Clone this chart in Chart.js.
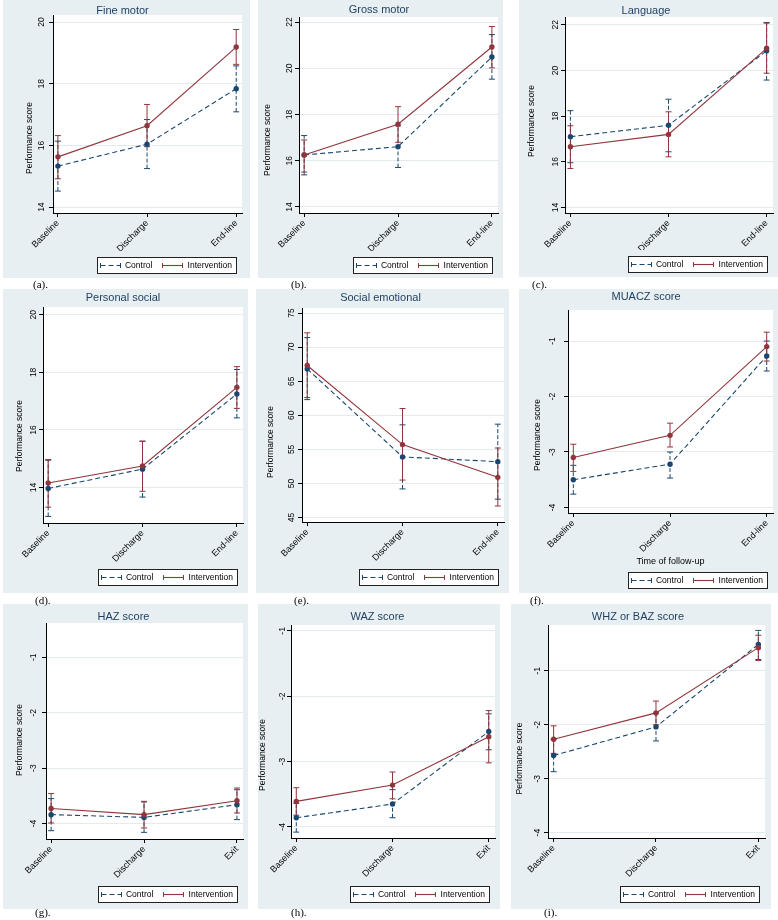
<!DOCTYPE html>
<html><head><meta charset="utf-8">
<script src="https://cdn.jsdelivr.net/npm/chart.js@4.4.1/dist/chart.umd.min.js"></script>
<style>
html,body{margin:0;padding:0;background:#fff;}
body{width:778px;height:920px;position:relative;overflow:hidden;}
.panel{position:absolute;z-index:1;}
.panel canvas{display:block;}
.lab{position:absolute;z-index:5;font:11px "Liberation Serif","Times New Roman",serif;color:#000;line-height:12px;white-space:nowrap;}
</style></head><body>
<script>
// ---------------- data ----------------
const timeCats = ['Baseline', 'Discharge', 'End-line'];
const exitCats = ['Baseline', 'Discharge', 'Exit'];
const seriesNames = ['Control', 'Intervention'];

const fineCtrl = [15.33, 16.04, 17.84];
const fineCtrlLo = [14.52, 15.25, 17.09];
const fineCtrlHi = [16.14, 16.84, 18.58];
const fineInt = [15.63, 16.64, 19.19];
const fineIntLo = [14.92, 15.96, 18.63];
const fineIntHi = [16.32, 17.33, 19.76];
const fineTicks = [14, 16, 18, 20];

const grossCtrl = [16.25, 16.61, 20.49];
const grossCtrlLo = [15.39, 15.71, 19.53];
const grossCtrlHi = [17.09, 17.51, 21.46];
const grossInt = [16.25, 17.58, 20.92];
const grossIntLo = [15.51, 16.80, 20.02];
const grossIntHi = [16.90, 18.34, 21.81];
const grossTicks = [14, 16, 18, 20, 22];

const langCtrl = [17.10, 17.60, 20.86];
const langCtrlLo = [15.96, 16.44, 19.58];
const langCtrlHi = [18.24, 18.74, 22.10];
const langInt = [16.66, 17.20, 20.97];
const langIntLo = [15.71, 16.22, 19.88];
const langIntHi = [17.58, 18.19, 22.07];
const langTicks = [14, 16, 18, 20, 22];

const persCtrl = [13.97, 14.64, 17.25];
const persCtrlLo = [13.00, 13.67, 16.42];
const persCtrlHi = [14.95, 15.61, 18.10];
const persInt = [14.16, 14.75, 17.48];
const persIntLo = [13.32, 13.87, 16.75];
const persIntHi = [14.97, 15.61, 18.20];
const persTicks = [14, 16, 18, 20];

const socCtrl = [66.8, 53.9, 53.2];
const socCtrlLo = [62.3, 49.2, 47.7];
const socCtrlHi = [71.4, 58.6, 58.7];
const socInt = [67.3, 55.7, 50.9];
const socIntLo = [62.6, 50.5, 46.7];
const socIntHi = [72.1, 61.0, 55.2];
const socTicks = [45, 50, 55, 60, 65, 70, 75];

const muacCtrl = [-3.50, -3.22, -1.27];
const muacCtrlLo = [-3.76, -3.47, -1.54];
const muacCtrlHi = [-3.24, -3.00, -1.00];
const muacInt = [-3.10, -2.70, -1.10];
const muacIntLo = [-3.35, -2.91, -1.36];
const muacIntHi = [-2.86, -2.48, -0.84];
const muacTicks = [-4, -3, -2, -1];

const hazCtrl = [-3.84, -3.89, -3.66];
const hazCtrlLo = [-4.13, -4.16, -3.93];
const hazCtrlHi = [-3.55, -3.61, -3.39];
const hazInt = [-3.73, -3.84, -3.59];
const hazIntLo = [-3.99, -4.08, -3.81];
const hazIntHi = [-3.46, -3.60, -3.36];
const hazTicks = [-4, -3, -2, -1];

const wazCtrl = [-3.86, -3.65, -2.54];
const wazCtrlLo = [-4.08, -3.86, -2.82];
const wazCtrlHi = [-3.64, -3.43, -2.27];
const wazInt = [-3.61, -3.36, -2.62];
const wazIntLo = [-3.82, -3.57, -3.02];
const wazIntHi = [-3.40, -3.16, -2.22];
const wazTicks = [-4, -3, -2, -1];

const whzCtrl = [-2.57, -2.04, -0.51];
const whzCtrlLo = [-2.87, -2.30, -0.79];
const whzCtrlHi = [-2.27, -1.78, -0.25];
const whzInt = [-2.27, -1.78, -0.57];
const whzIntLo = [-2.53, -2.00, -0.81];
const whzIntHi = [-2.02, -1.56, -0.34];
const whzTicks = [-4, -3, -2, -1];

// ---------------- styles ----------------
const NAVY = '#1a476f', MAROON = '#90353b';
const BG = '#e8eff2', GRID = '#e3ebee', TITLE = '#1c3d5e';
const FONT = '"Liberation Sans", Arial, Helvetica, sans-serif';
Chart.defaults.font.family = FONT;

// ---------------- panels (data refs + layout) ----------------
const panels = [
  {tag:'(a).', title:'Fine motor', cats:timeCats, c:[fineCtrl,fineCtrlLo,fineCtrlHi], i:[fineInt,fineIntLo,fineIntHi], ticks:fineTicks,
   yMin:13.81, yMax:20.23, box:[3,0,247,278], L:50, padR:8, T:15, B:213, xh:38, tTop:4.4, yT:21.9, yDy:24, yPad:2.3, tagPos:[33,285]},
  {tag:'(b).', title:'Gross motor', cats:timeCats, c:[grossCtrl,grossCtrlLo,grossCtrlHi], i:[grossInt,grossIntLo,grossIntHi], ticks:grossTicks,
   yMin:13.74, yMax:22.22, box:[258,0,245,278], L:41, padR:3, T:17, B:213, xh:38, tTop:3.4, yT:4.9, yDy:25, yPad:0.6, tagPos:[291,285]},
  {tag:'(c).', title:'Language', cats:timeCats, c:[langCtrl,langCtrlLo,langCtrlHi], i:[langInt,langIntLo,langIntHi], ticks:langTicks,
   yMin:13.76, yMax:22.34, box:[519,0,259,277], L:46, padR:5, T:17, B:213, xh:37, tTop:4.1, yT:7.9, yDy:6, yPad:0.5, tagPos:[532,285]},
  {tag:'(d).', title:'Personal social', cats:timeCats, c:[persCtrl,persCtrlLo,persCtrlHi], i:[persInt,persIntLo,persIntHi], ticks:persTicks,
   yMin:12.77, yMax:20.27, box:[3,289,245,304], L:40, padR:5, T:18, B:234, xh:40, tTop:2.4, yT:11.9, yDy:21, yPad:1, tagPos:[35,601]},
  {tag:'(e).', title:'Social emotional', cats:timeCats, c:[socCtrl,socCtrlLo,socCtrlHi], i:[socInt,socIntLo,socIntHi], ticks:socTicks,
   yMin:44.35, yMax:75.74, box:[256,289,253,304], L:46, padR:4, T:19, B:233, xh:41, tTop:2.4, yT:9.9, yDy:27, yPad:2, tagPos:[294,601]},
  {tag:'(f).', title:'MUACZ score', cats:timeCats, c:[muacCtrl,muacCtrlLo,muacCtrlHi], i:[muacInt,muacIntLo,muacIntHi], ticks:muacTicks,
   yMin:-4.10, yMax:-0.44, box:[519,289,259,304], L:49, padR:5, T:21, B:224, xh:53, tTop:1.4, yT:13.9, yDy:23.5, yPad:7.5, tagPos:[530,601],
   xTitle:'Time of follow-up'},
  {tag:'(g).', title:'HAZ score', cats:exitCats, c:[hazCtrl,hazCtrlLo,hazCtrlHi], i:[hazInt,hazIntLo,hazIntHi], ticks:hazTicks,
   yMin:-4.28, yMax:-0.38, box:[3,604,245,305], L:43, padR:4, T:19, B:235, xh:41, tTop:6.4, yT:11.9, yDy:9, yPad:4.2, tagPos:[35,913]},
  {tag:'(h).', title:'WAZ score', cats:exitCats, c:[wazCtrl,wazCtrlLo,wazCtrlHi], i:[wazInt,wazIntLo,wazIntHi], ticks:wazTicks,
   yMin:-4.17, yMax:-0.91, box:[258,604,242,305], L:33, padR:3, T:21, B:234, xh:42, tTop:6.4, yT:0, yDy:23.5, yPad:0.2, tagPos:[291,913]},
  {tag:'(i).', title:'WHZ or BAZ score', cats:exitCats, c:[whzCtrl,whzCtrlLo,whzCtrlHi], i:[whzInt,whzIntLo,whzIntHi], ticks:whzTicks,
   yMin:-4.10, yMax:-0.15, box:[511,604,260,305], L:37, padR:6, T:21, B:234, xh:42, tTop:6.4, yT:3.9, yDy:27, yPad:2.5, tagPos:[544,913]}
];

// ---------------- decoration plugin ----------------
const LEG_FONT = 8.5, LEG_SYM = 21, LEG_PAD = 10, LEG_H = LEG_FONT + LEG_PAD + 10;
function legendRect(chart) {
  const lg = chart.legend;
  if (!lg || !lg.legendHitBoxes || !lg.legendHitBoxes.length) return null;
  const hb = lg.legendHitBoxes;
  const x0 = Math.min(...hb.map(h => h.left));
  const x1 = Math.max(...hb.map(h => h.left + h.width));
  const y0 = hb[0].top;
  return {x: Math.round(x0 - 3) + 0.5, y: Math.round(y0 - 4) + 0.5, w: Math.round(x1 - x0 + 7), h: 16};
}
const panelDeco = {
  id: 'panelDeco',
  beforeDraw(chart) {
    const {ctx, width, height, chartArea: a} = chart;
    ctx.save();
    ctx.fillStyle = BG;
    ctx.fillRect(0, 0, width, height);
    ctx.fillStyle = '#fff';
    ctx.fillRect(a.left, a.top, a.right - a.left, a.bottom - a.top);
    const r = legendRect(chart);
    if (r) ctx.fillRect(r.x, r.y, r.w, r.h);
    ctx.restore();
  },
  afterDraw(chart) {
    const {ctx} = chart;
    const r = legendRect(chart);
    if (!r) return;
    ctx.save();
    ctx.strokeStyle = '#222';
    ctx.lineWidth = 1;
    ctx.strokeRect(r.x, r.y, r.w, r.h);
    const lg = chart.legend;
    lg.legendHitBoxes.forEach((hb, k) => {
      const item = lg.legendItems[k];
      const ds = chart.data.datasets[item.datasetIndex];
      const cy = Math.round(hb.top + LEG_FONT / 2) + 0.5;
      const xa = Math.round(hb.left) + 0.5, xb = Math.round(hb.left + LEG_SYM) - 0.5;
      ctx.strokeStyle = ds.borderColor;
      ctx.lineWidth = 1.1;
      ctx.setLineDash(ds.borderDash || []);
      ctx.beginPath();
      ctx.moveTo(xa, cy); ctx.lineTo(xb, cy);
      ctx.stroke();
      ctx.setLineDash([]);
      ctx.lineWidth = 1;
      ctx.beginPath();
      [xa, xb].forEach(x => { ctx.moveTo(x, cy - 2.5); ctx.lineTo(x, cy + 2.5); });
      ctx.stroke();
    });
    ctx.restore();
  }
};

// ---------------- build ----------------
const pts = arr => arr.map((v, k) => ({x: k, y: v}));
const ciData = (lo, hi) => {
  const d = [];
  lo.forEach((v, k) => { d.push({x: k, y: v}, {x: k, y: hi[k]}, {x: k, y: null}); });
  return d;
};

panels.forEach(p => {
  const [bx, by, W, H] = p.box;
  const wrap = document.createElement('div');
  wrap.className = 'panel';
  wrap.style.left = bx + 'px'; wrap.style.top = by + 'px';
  wrap.style.width = W + 'px'; wrap.style.height = H + 'px';
  const cv = document.createElement('canvas');
  cv.width = W; cv.height = H;
  cv.style.width = W + 'px'; cv.style.height = H + 'px';
  wrap.appendChild(cv);
  document.body.appendChild(wrap);

  const lab = document.createElement('div');
  lab.className = 'lab';
  lab.textContent = p.tag;
  lab.style.left = p.tagPos[0] + 'px';
  lab.style.top = (p.tagPos[1] - 7) + 'px';
  document.body.appendChild(lab);

  const padB = H - p.B - p.xh - LEG_H;
  const tBot = p.T - p.tTop - 13.2;

  new Chart(cv, {
    type: 'line',
    data: {
      datasets: [
        {label: seriesNames[0], data: pts(p.c[0]), borderColor: NAVY, backgroundColor: NAVY, borderWidth: 1.1,
         borderDash: [5, 3], tension: 0, pointRadius: 2.7, pointBorderWidth: 0, pointBackgroundColor: NAVY,
         pointBorderColor: NAVY, order: 1},
        {label: seriesNames[1], data: pts(p.i[0]), borderColor: MAROON, backgroundColor: MAROON, borderWidth: 1.1,
         tension: 0, pointRadius: 2.7, pointBorderWidth: 0, pointBackgroundColor: MAROON,
         pointBorderColor: MAROON, order: 0},
        {label: 'ci-c', data: ciData(p.c[1], p.c[2]), borderColor: NAVY, borderWidth: 1, borderDash: [4, 2],
         spanGaps: false, pointStyle: 'line', pointRadius: 3, pointBorderWidth: 1, pointBorderColor: NAVY,
         pointBackgroundColor: NAVY, order: 3},
        {label: 'ci-i', data: ciData(p.i[1], p.i[2]), borderColor: MAROON, borderWidth: 1,
         spanGaps: false, pointStyle: 'line', pointRadius: 3, pointBorderWidth: 1, pointBorderColor: MAROON,
         pointBackgroundColor: MAROON, order: 2}
      ]
    },
    options: {
      responsive: false, animation: false, events: [], devicePixelRatio: 1,
      layout: {padding: {left: 0, top: 0, right: p.padR, bottom: padB}},
      plugins: {
        title: {display: true, text: p.title, color: TITLE,
                font: {family: FONT, size: 11, weight: 'normal', lineHeight: 1.2},
                padding: {top: p.tTop, bottom: tBot}},
        legend: {display: true, position: 'bottom', align: 'end', fullSize: false,
          labels: {usePointStyle: true, pointStyle: 'line', pointStyleWidth: LEG_SYM, padding: LEG_PAD,
                   color: '#000', font: {family: FONT, size: LEG_FONT},
                   filter: it => it.datasetIndex < 2,
                   sort: (a, b) => a.datasetIndex - b.datasetIndex}},
        tooltip: {enabled: false}
      },
      scales: {
        x: {
          type: 'linear', min: -0.055, max: 2.065,
          afterBuildTicks: s => { s.ticks = [0, 1, 2].map(v => ({value: v})); },
          afterFit: s => { s.height = p.xh; s.paddingLeft = 0; s.paddingRight = 0; },
          ticks: {callback: v => p.cats[v], minRotation: 45, maxRotation: 45, autoSkip: false, padding: 1,
                  color: '#000', font: {family: FONT, size: 9}},
          grid: {display: true, drawOnChartArea: false, drawTicks: true, tickLength: 4, tickColor: '#000', tickWidth: 1},
          border: {display: true, color: '#000', width: 1},
          title: {display: !!p.xTitle, text: p.xTitle || '', color: '#000',
                  font: {family: FONT, size: 9}, padding: {top: 0, bottom: -1.4}}
        },
        y: {
          type: 'linear', min: p.yMin, max: p.yMax,
          afterBuildTicks: s => { s.ticks = p.ticks.map(v => ({value: v})); },
          afterFit: s => { s.width = p.L; s.paddingTop = 0; s.paddingBottom = 0; },
          afterUpdate: s => {
            if (!s.__shifted) {
              const orig = s.drawTitle;
              s.drawTitle = function () { const c = this.ctx; c.save(); c.translate(0, p.yDy); orig.call(this); c.restore(); };
              s.__shifted = true;
            }
          },
          ticks: {minRotation: 90, maxRotation: 90, crossAlign: 'center', padding: p.yPad, color: '#000',
                  font: {family: FONT, size: 8.5}, callback: v => String(v)},
          grid: {display: true, drawOnChartArea: true, color: GRID, lineWidth: 1, drawTicks: true,
                 tickLength: 4, tickColor: '#000', tickWidth: 1},
          border: {display: true, color: '#000', width: 1},
          title: {display: true, text: 'Performance score', color: '#000',
                  font: {family: FONT, size: 8.5, lineHeight: 1.2}, padding: {top: p.yT, bottom: 0}}
        }
      }
    },
    plugins: [panelDeco]
  });
});
</script>
</body></html>
